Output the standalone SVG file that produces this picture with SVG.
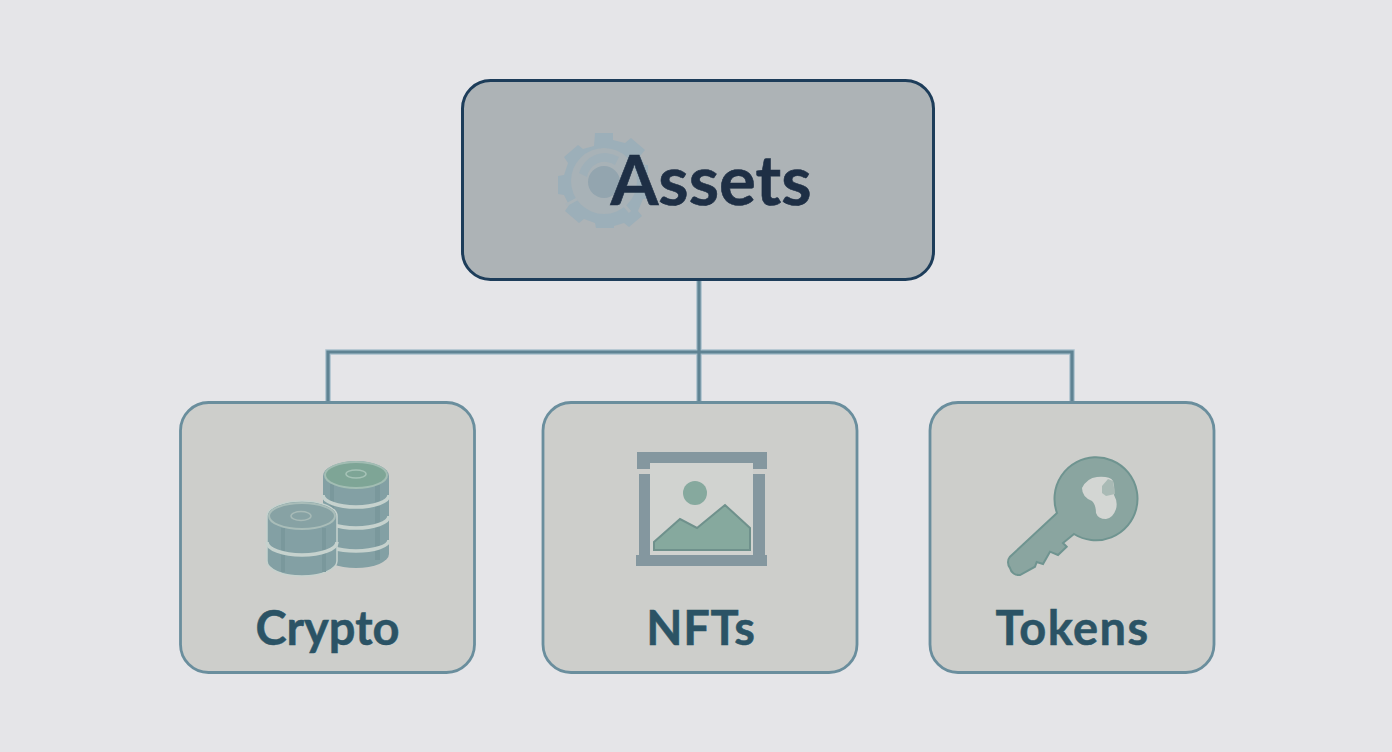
<svg xmlns="http://www.w3.org/2000/svg" width="1392" height="752" viewBox="0 0 1392 752">
<style>
.child{fill:#cdcecb;stroke:#6a8e9d;stroke-width:2.800}
.conn{fill:none;stroke:#5f8393;stroke-width:3.200}
.halo{fill:none;stroke:#a9c0cc;stroke-width:5.500}
.lab{font-family:Lato,"Noto Sans",sans-serif;font-weight:700;font-size:47px;fill:#2b5365;stroke:#2b5365;stroke-width:.5;text-anchor:middle}
.coin{fill:#83a0a4}
.stripe{fill:#7a989c}
.band{fill:none;stroke:#c6d2ce;stroke-width:3.500}
.nft{fill:#84979f}
.green{fill:#86a99e}
</style>
<rect width="1392" height="752" fill="#e5e5e8"/>
<g id="connectors">
<path class="halo" d="M699 280V402M328 402V352H1072V402"/>
<path class="conn" d="M699 280V402M328 402V352H1072V402"/>
</g>
<g id="assets">
<rect x="462.500" y="80.500" width="471" height="199" rx="28" fill="#adb3b6" stroke="#1d3d5a" stroke-width="3"/>
<g id="gear">
<path d="M595 133h18v7l12 3 6-5 14 12-5 6 5 9 3 0v34h-5l-5 12 4 5-13 11-5-4-10 3v2h-18l-1-5-11-4-5 4-14-12 4-6-5-10-6-1v-18l6-1 4-12-4-6 14-12 5 4 11-3z" fill="#9cafb9"/>
<circle cx="604" cy="181" r="33" fill="#a8b2b7"/>
<path d="M579 173a27 27 0 0 1 40-16l-4 8a18 18 0 0 0-28 12z" fill="#9fb0b9"/>
<circle cx="604" cy="182" r="16" fill="#93a5af"/>
<path d="M566 205l11-6M630 212l-6-7" stroke="#a9b3b8" stroke-width="3" fill="none"/>
</g>
<text x="711" y="205" font-family="Lato,'Noto Sans',sans-serif" font-weight="700" font-size="69" fill="#1e2f45" stroke="#1e2f45" stroke-width=".6" text-anchor="middle">Assets</text>
</g>
<g id="crypto">
<rect class="child" x="180.500" y="402.500" width="294" height="270" rx="28"/>
<g id="crypto-icon">
<path class="coin" d="M323 476a33 15 0 0 1 66 0v78a33 14 0 0 1-66 0z"/>
<path class="stripe" d="M375 485h5v75h-5zM330 484h4v70h-4z"/>
<ellipse cx="356" cy="475" rx="31" ry="13" fill="#7ea596" stroke="#a2bdb3" stroke-width="2"/>
<ellipse cx="356" cy="474" rx="10" ry="4" fill="none" stroke="#a5c2b6" stroke-width="1.500"/>
<path class="band" d="M323 495a33 12 0 0 0 66 0M323 516a33 12 0 0 0 66 0M323 540a33 11 0 0 0 66 0"/>
<path class="coin" d="M267 516a35 15 0 0 1 70 0v45a35 15 0 0 1-70 0z" stroke="#c6d2ce" stroke-width="1.500"/>
<path class="stripe" d="M281 528h4v44h-4zM322 528h4v44h-4z"/>
<ellipse cx="302" cy="516" rx="33" ry="13" fill="#87a2a4" stroke="#a9bdb9" stroke-width="2"/>
<ellipse cx="301" cy="516" rx="10" ry="4.500" fill="none" stroke="#a7bab7" stroke-width="1.500"/>
<path class="band" d="M267 542a35 13 0 0 0 70 0"/>
</g>
<text class="lab" x="327.500" y="645">Crypto</text>
</g>
<g id="nfts">
<rect class="child" x="543" y="402.500" width="314" height="270" rx="28"/>
<g id="nft-icon">
<rect x="650" y="463" width="103" height="92" fill="#d1d3d0"/>
<path class="nft" d="M637 452h130v17h-14v-6H650v6h-13zM639 474h11v81h-11zM753 474h12v81h-12zM636 555h131v11H636z"/>
<circle class="green" cx="695" cy="493" r="12"/>
<path class="green" d="M654 550v-8l26-23 17 9 28-23 25 23v22z" stroke="#6f918c" stroke-width="2"/>
</g>
<text class="lab" x="701" y="645" letter-spacing=".7">NFTs</text>
</g>
<g id="tokens">
<rect class="child" x="930" y="402.500" width="284" height="270" rx="28"/>
<g id="key-icon">
<path d="M1057 513A41.500 41.500 0 1 1 1074 534L1063 543 1066.700 546.700 1058 555 1050 551.700 1043 564 1036.700 562 1035 566.700 1020 575A9 9 0 0 1 1010 568 9 9 0 0 1 1010 556.700Z" fill="#8aa5a0" stroke="#6f9490" stroke-width="2"/>
<path d="M1082 488Q1087 478 1097 477Q1110 476 1113 481Q1115 488 1114 495Q1118 502 1116 509Q1113 518 1106 519Q1098 519 1096 513Q1096 505 1092 501Q1082 497 1082 488z" fill="#d3d6d3"/>
<path d="M1102 486l6-7 5 2 2 13-9 2-4-3z" fill="#a9bab5"/>
</g>
<text class="lab" x="1072.500" y="645" letter-spacing="1.400">Tokens</text>
</g>
</svg>
